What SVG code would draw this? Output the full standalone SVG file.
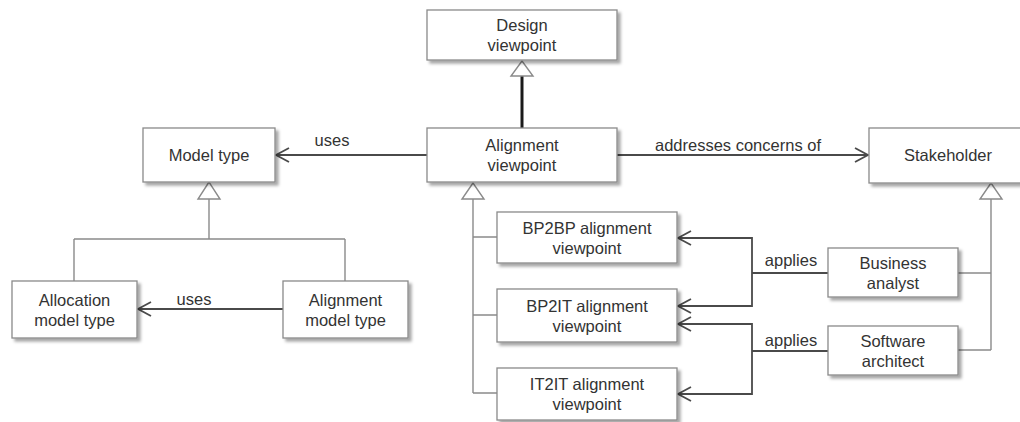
<svg xmlns="http://www.w3.org/2000/svg" width="1020" height="422" viewBox="0 0 1020 422">
  <style>
    .box { fill: #ffffff; stroke: #8a8a8a; stroke-width: 1.3; filter: url(#shadow); }
    .lbl { font-family: "Liberation Sans", Arial, sans-serif; font-size: 16.5px; fill: #333333; text-anchor: middle; }
    .gen { fill: none; stroke: #8a8a8a; stroke-width: 1.4; }
    .tri { fill: #ffffff; stroke: #8a8a8a; stroke-width: 1.4; stroke-linejoin: miter; }
    .strong { fill: none; stroke: #1a1a1a; stroke-width: 3; }
    .assoc { fill: none; stroke: #4a4a4a; stroke-width: 1.8; }
    .arrow { fill: none; stroke: #4a4a4a; stroke-width: 1.8; marker-end: url(#open); }
  </style>
  <defs>
    <filter id="shadow" x="-10%" y="-20%" width="130%" height="150%">
      <feDropShadow dx="3" dy="3" stdDeviation="1.8" flood-color="#000000" flood-opacity="0.35"/>
    </filter>
    <marker id="open" markerUnits="userSpaceOnUse" markerWidth="16" markerHeight="18" viewBox="0 0 16 18" refX="14" refY="9" orient="auto">
      <path d="M1,2 L14,9 L1,16" fill="none" stroke="#4a4a4a" stroke-width="1.8"/>
    </marker>
  </defs>

  <rect width="1020" height="422" fill="#ffffff"/>

  <!-- connectors -->
  <g id="connectors">
    <!-- Alignment viewpoint specialises Design viewpoint -->
    <line class="strong" x1="522" y1="76" x2="522" y2="128"/>
    <polygon class="tri" points="522,61 511,76 533,76"/>

    <!-- uses / addresses concerns of -->
    <line class="arrow" x1="427" y1="155" x2="276" y2="155"/>
    <line class="arrow" x1="617" y1="155" x2="868" y2="155"/>

    <!-- Model type hierarchy -->
    <path class="gen" d="M209,199 V239 M74,239 H345 M74,239 V281 M345,239 V281"/>
    <polygon class="tri" points="209,182 198,199 220,199"/>
    <line class="arrow" x1="283" y1="309" x2="138" y2="309"/>

    <!-- Alignment viewpoint hierarchy -->
    <path class="gen" d="M473,199 V393 M473,237 H497 M473,315 H497 M473,393 H497"/>
    <polygon class="tri" points="473,183 462,199 484,199"/>

    <!-- applies: Business analyst -->
    <line class="assoc" x1="752" y1="273" x2="828" y2="273"/>
    <path class="arrow" d="M752,273 V238 H678"/>
    <path class="arrow" d="M752,273 V306 H678"/>

    <!-- applies: Software architect -->
    <line class="assoc" x1="752" y1="351" x2="828" y2="351"/>
    <path class="arrow" d="M752,351 V324 H678"/>
    <path class="arrow" d="M752,351 V394 H678"/>

    <!-- Stakeholder hierarchy -->
    <path class="gen" d="M991,199 V350 M958,273 H991 M958,350 H991"/>
    <polygon class="tri" points="991,183 980,199 1002,199"/>

    <text class="lbl" x="332" y="146">uses</text>
    <text class="lbl" x="738" y="151">addresses concerns of</text>
    <text class="lbl" x="194" y="305">uses</text>
    <text class="lbl" x="791" y="266">applies</text>
    <text class="lbl" x="791" y="346">applies</text>
  </g>

  <!-- nodes -->
  <g id="design-viewpoint">
    <rect class="box" x="427" y="10" width="190" height="50"/>
    <text class="lbl" x="522" y="31">Design</text>
    <text class="lbl" x="522" y="51">viewpoint</text>
  </g>
  <g id="alignment-viewpoint">
    <rect class="box" x="427" y="128" width="190" height="54"/>
    <text class="lbl" x="522" y="151">Alignment</text>
    <text class="lbl" x="522" y="171">viewpoint</text>
  </g>
  <g id="model-type">
    <rect class="box" x="143" y="128" width="132" height="54"/>
    <text class="lbl" x="209" y="161">Model type</text>
  </g>
  <g id="stakeholder">
    <rect class="box" x="869" y="128" width="158" height="55"/>
    <text class="lbl" x="948" y="161">Stakeholder</text>
  </g>
  <g id="allocation-model-type">
    <rect class="box" x="12" y="281" width="125" height="57"/>
    <text class="lbl" x="74.5" y="305.5">Allocation</text>
    <text class="lbl" x="74.5" y="325.5">model type</text>
  </g>
  <g id="alignment-model-type">
    <rect class="box" x="283" y="281" width="125" height="57"/>
    <text class="lbl" x="345.5" y="305.5">Alignment</text>
    <text class="lbl" x="345.5" y="325.5">model type</text>
  </g>
  <g id="bp2bp-viewpoint">
    <rect class="box" x="497" y="212" width="180" height="51"/>
    <text class="lbl" x="587" y="233.5">BP2BP alignment</text>
    <text class="lbl" x="587" y="253.5">viewpoint</text>
  </g>
  <g id="bp2it-viewpoint">
    <rect class="box" x="497" y="289" width="180" height="53"/>
    <text class="lbl" x="587" y="311.5">BP2IT alignment</text>
    <text class="lbl" x="587" y="331.5">viewpoint</text>
  </g>
  <g id="it2it-viewpoint">
    <rect class="box" x="497" y="368" width="180" height="52"/>
    <text class="lbl" x="587" y="390">IT2IT alignment</text>
    <text class="lbl" x="587" y="410">viewpoint</text>
  </g>
  <g id="business-analyst">
    <rect class="box" x="828" y="248" width="130" height="49"/>
    <text class="lbl" x="893" y="268.5">Business</text>
    <text class="lbl" x="893" y="288.5">analyst</text>
  </g>
  <g id="software-architect">
    <rect class="box" x="828" y="326" width="130" height="49"/>
    <text class="lbl" x="893" y="346.5">Software</text>
    <text class="lbl" x="893" y="366.5">architect</text>
  </g>
</svg>
